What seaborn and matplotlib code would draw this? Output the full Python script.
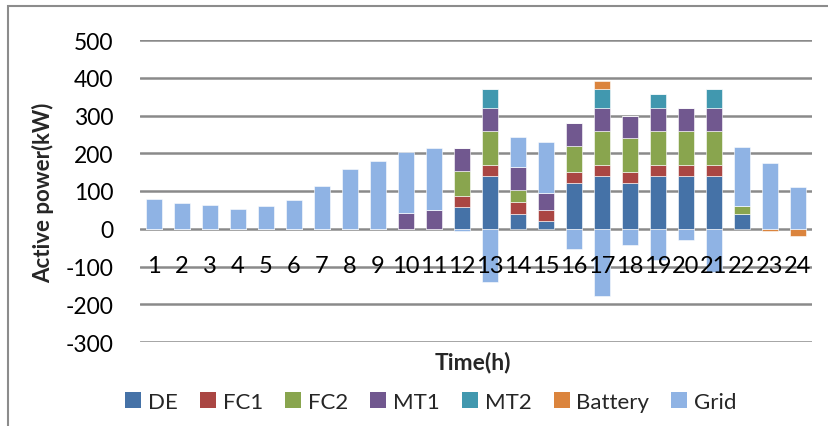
import numpy as np
import pandas as pd
import matplotlib
matplotlib.use("Agg")
import matplotlib.pyplot as plt
from matplotlib.patches import Patch, Rectangle
import seaborn as sns

hours = [str(h) for h in range(1, 25)]
sources = ["DE", "FC1", "FC2", "MT1", "MT2", "Battery", "Grid"]

de      = [0, 0, 0, 0, 0, 0, 0, 0, 0, 0, 0, 58, 140, 40, 20, 120, 140, 120, 140, 140, 140, 40, 0, 0]
fc1     = [0, 0, 0, 0, 0, 0, 0, 0, 0, 0, 0, 30, 30, 30, 30, 30, 30, 30, 30, 30, 30, 0, 0, 0]
fc2     = [0, 0, 0, 0, 0, 0, 0, 0, 0, 0, 0, 66, 90, 33, 0, 70, 90, 90, 90, 90, 90, 20, 0, 0]
mt1     = [0, 0, 0, 0, 0, 0, 0, 0, 0, 42, 50, 60, 60, 60, 46, 60, 60, 60, 60, 60, 60, 0, 0, 0]
mt2     = [0, 0, 0, 0, 0, 0, 0, 0, 0, 0, 0, 0, 50, 0, 0, 0, 50, 0, 37, 0, 50, 0, 0, 0]
battery = [0, 0, 0, 0, 0, 0, 0, 0, 0, 0, 0, 0, 0, 0, 0, 0, 22, 0, 0, 0, 0, 0, -5, -20]
grid    = [80, 67, 63, 52, 61, 75, 112, 157, 179, 160, 164, -5, -142, 79, 135, -54, -178, -42, -82, -31, -114, 157, 175, 110]

series = [de, fc1, fc2, mt1, mt2, battery, grid]
colors = ["#4572A7", "#AA4643", "#89A54E", "#71588F", "#4198AF", "#DB843D", "#8FB3E4"]
yticks = list(range(-300, 501, 100))

FONT = ["Lato", "DejaVu Sans"]
sns.set_theme(style="white")
plt.rcParams["font.family"] = FONT

fig = plt.figure(figsize=(8.29, 4.27), dpi=100)
ax = fig.add_axes([140 / 829, 1 - 343 / 427, 672 / 829, 302 / 427])

# Horizontal gridlines sit behind the bars
for t in yticks:
    ax.axhline(t, color="#8A8A8A", linewidth=1.8, zorder=0.5)

# Stack positive values upward and negative values downward from zero
pos_base = np.zeros(len(hours))
neg_base = np.zeros(len(hours))
for name, vals, col in zip(sources, series, colors):
    v = np.asarray(vals, dtype=float)
    bottom = np.where(v >= 0, pos_base, neg_base)
    df = pd.DataFrame({"hour": hours, "power": v})
    sns.barplot(data=df, x="hour", y="power", order=hours, color=col,
                bottom=bottom, width=0.57, edgecolor="white", linewidth=0.4,
                saturation=1, errorbar=None, ax=ax, zorder=2)
    pos_base = pos_base + np.where(v >= 0, v, 0)
    neg_base = neg_base + np.where(v < 0, v, 0)

ax.set_ylim(-300, 500)
ax.set_xlim(-0.5, len(hours) - 0.5)
ax.set_yticks(yticks)
ax.set_yticklabels([str(t) for t in yticks])
ax.grid(False)
ax.set_axisbelow(False)
for s in ["top", "right", "left"]:
    ax.spines[s].set_visible(False)
ax.spines["bottom"].set_position(("data", 0))
ax.spines["bottom"].set_visible(False)
ax.tick_params(axis="x", length=0, pad=19, labelsize=17, colors="black")
ax.tick_params(axis="y", length=0, pad=19, labelsize=16.5, colors="black")
ax.set_xlabel("")
ax.set_ylabel("")

fig.text(43 / 829, 1 - 193 / 427, "Active power(kW)", rotation=90,
         ha="center", va="center", fontsize=16, fontweight="bold")
fig.text(473 / 829, 1 - 363 / 427, "Time(h)", ha="center", va="center",
         fontsize=16.5, fontweight="bold")

handles = [Patch(facecolor=c, edgecolor="none") for c in colors]
fig.legend(handles, sources, loc="center", ncol=7,
           bbox_to_anchor=(431 / 829, 1 - 403 / 427), frameon=False,
           fontsize=16, handlelength=0.72, handleheight=0.72,
           handletextpad=0.3, columnspacing=1.0)

fig.patches.append(Rectangle((8 / 829, -0.1), 1.2, 1.1 - 7 / 427,
                             transform=fig.transFigure, fill=False,
                             edgecolor="#8C8C8C", linewidth=1.5))

fig.savefig("out.png", dpi=100)
